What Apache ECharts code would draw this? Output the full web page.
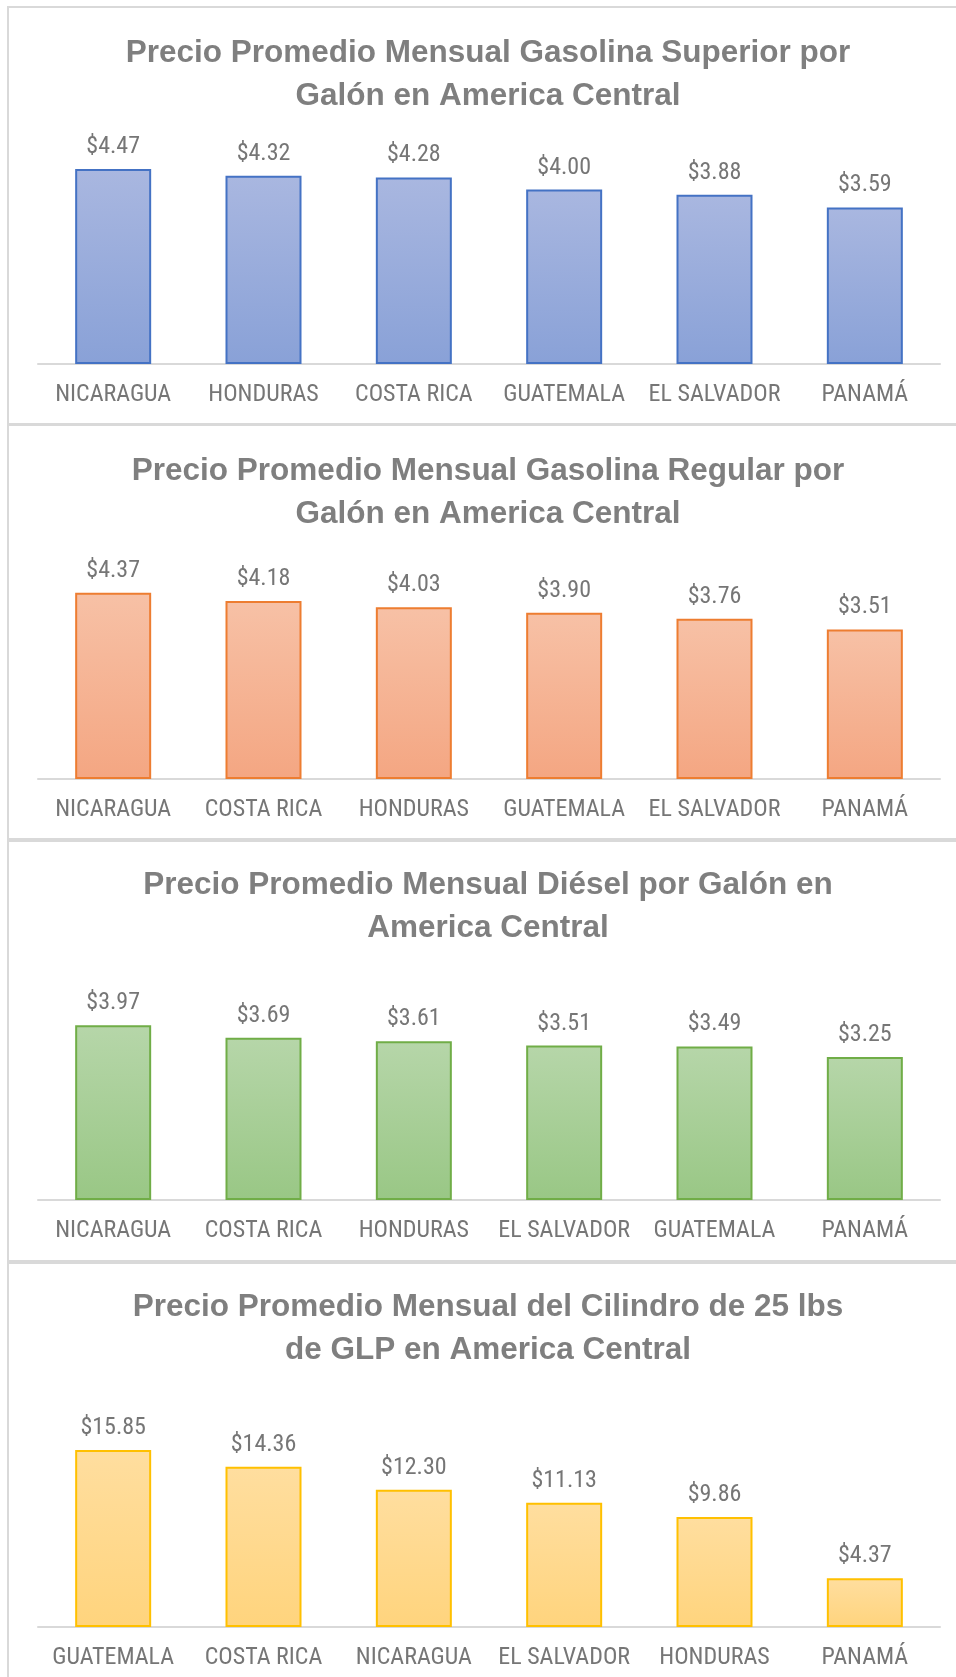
<!DOCTYPE html>
<html>
<head>
<meta charset="utf-8">
<title>Precios de combustibles en America Central</title>
<script src="https://cdn.jsdelivr.net/npm/echarts@6/dist/echarts.min.js"></script>
<style>
  html, body { margin: 0; padding: 0; background: #fff; overflow: hidden; }
  #chart { width: 956px; height: 1677px; }
</style>
</head>
<body>
<div id="chart"></div>
<script>
// datos de cada panel (orden como en el grafico)
const superiorPaises = ['NICARAGUA', 'HONDURAS', 'COSTA RICA', 'GUATEMALA', 'EL SALVADOR', 'PANAMÁ']
const superiorPrecios = [4.47, 4.32, 4.28, 4.00, 3.88, 3.59]

const regularPaises = ['NICARAGUA', 'COSTA RICA', 'HONDURAS', 'GUATEMALA', 'EL SALVADOR', 'PANAMÁ']
const regularPrecios = [4.37, 4.18, 4.03, 3.90, 3.76, 3.51]

const dieselPaises = ['NICARAGUA', 'COSTA RICA', 'HONDURAS', 'EL SALVADOR', 'GUATEMALA', 'PANAMÁ']
const dieselPrecios = [3.97, 3.69, 3.61, 3.51, 3.49, 3.25]

const glpPaises = ['GUATEMALA', 'COSTA RICA', 'NICARAGUA', 'EL SALVADOR', 'HONDURAS', 'PANAMÁ']
const glpPrecios = [15.85, 14.36, 12.30, 11.13, 9.86, 4.37]

const titulos = [
  'Precio Promedio Mensual Gasolina Superior por\nGalón en America Central',
  'Precio Promedio Mensual Gasolina Regular por\nGalón en America Central',
  'Precio Promedio Mensual Diésel por Galón en\nAmerica Central',
  'Precio Promedio Mensual del Cilindro de 25 lbs\nde GLP en America Central'
]
const yMaximos = [5, 5, 4.5, 18]

// layout (px)
const panels = [
  { top: 7, bottom: 424, titleTop: 31.5, gridTop: 146, gridHeight: 218 },
  { top: 425, bottom: 839, titleTop: 449.5, gridTop: 566, gridHeight: 213 },
  { top: 841, bottom: 1261, titleTop: 864, gridTop: 1002, gridHeight: 198 },
  { top: 1263, bottom: 1700, titleTop: 1286, gridTop: 1426, gridHeight: 201 }
]
const colores = [
  { top: '#A9B7E0', bottom: '#89A1D7', border: '#4472C4' },
  { top: '#F7C1A6', bottom: '#F4A682', border: '#ED7D31' },
  { top: '#B6D6A9', bottom: '#99C785', border: '#70AD47' },
  { top: '#FFDE9F', bottom: '#FFD47D', border: '#FFC000' }
]
const datos = [
  [superiorPaises, superiorPrecios],
  [regularPaises, regularPrecios],
  [dieselPaises, dieselPrecios],
  [glpPaises, glpPrecios]
]

// no hay Arial Narrow: Roboto Condensed es lo mas parecido
const labelFont = "'Roboto Condensed', 'Liberation Sans Narrow', 'Arial Narrow', sans-serif"
const titleFont = "'Liberation Sans', Arial, sans-serif"

const chart = echarts.init(document.getElementById('chart'), null, { renderer: 'canvas' })

const option = {
  animation: false,
  backgroundColor: '#fff',
  title: titulos.map((t, i) => ({
    text: t,
    left: 488,
    top: panels[i].titleTop,
    textAlign: 'center',
    padding: 0,
    textStyle: {
      fontFamily: titleFont,
      fontSize: 31.5,
      fontWeight: 'bold',
      color: '#7f7f7f',
      lineHeight: 43
    }
  })),
  graphic: panels.map(p => ({
    type: 'rect',
    silent: true,
    z: -1,
    shape: { x: 8, y: p.top, width: 1000, height: p.bottom - p.top },
    style: { fill: 'none', stroke: '#d9d9d9', lineWidth: 2 }
  })),
  grid: panels.map(p => ({
    left: 38,
    width: 902,
    top: p.gridTop,
    height: p.gridHeight
  })),
  xAxis: datos.map((d, i) => ({
    type: 'category',
    gridIndex: i,
    data: d[0],
    axisLine: { lineStyle: { color: '#d9d9d9', width: 2 } },
    axisTick: { show: false },
    axisLabel: {
      interval: 0,
      margin: 19,
      fontFamily: labelFont,
      fontSize: 24,
      color: '#767676'
    }
  })),
  yAxis: yMaximos.map((m, i) => ({
    type: 'value',
    gridIndex: i,
    min: 0,
    max: m,
    show: false,
    splitLine: { show: false }
  })),
  series: datos.map((d, i) => ({
    type: 'bar',
    xAxisIndex: i,
    yAxisIndex: i,
    data: d[1],
    barWidth: 76,
    itemStyle: {
      color: new echarts.graphic.LinearGradient(0, 0, 0, 1, [
        { offset: 0, color: colores[i].top },
        { offset: 1, color: colores[i].bottom }
      ]),
      borderColor: colores[i].border,
      borderWidth: 2
    },
    label: {
      show: true,
      position: 'top',
      distance: 10,
      fontFamily: labelFont,
      fontSize: 24,
      color: '#767676',
      formatter: p => '$' + p.value.toFixed(2)
    }
  }))
}

chart.setOption(option)
</script>
</body>
</html>
